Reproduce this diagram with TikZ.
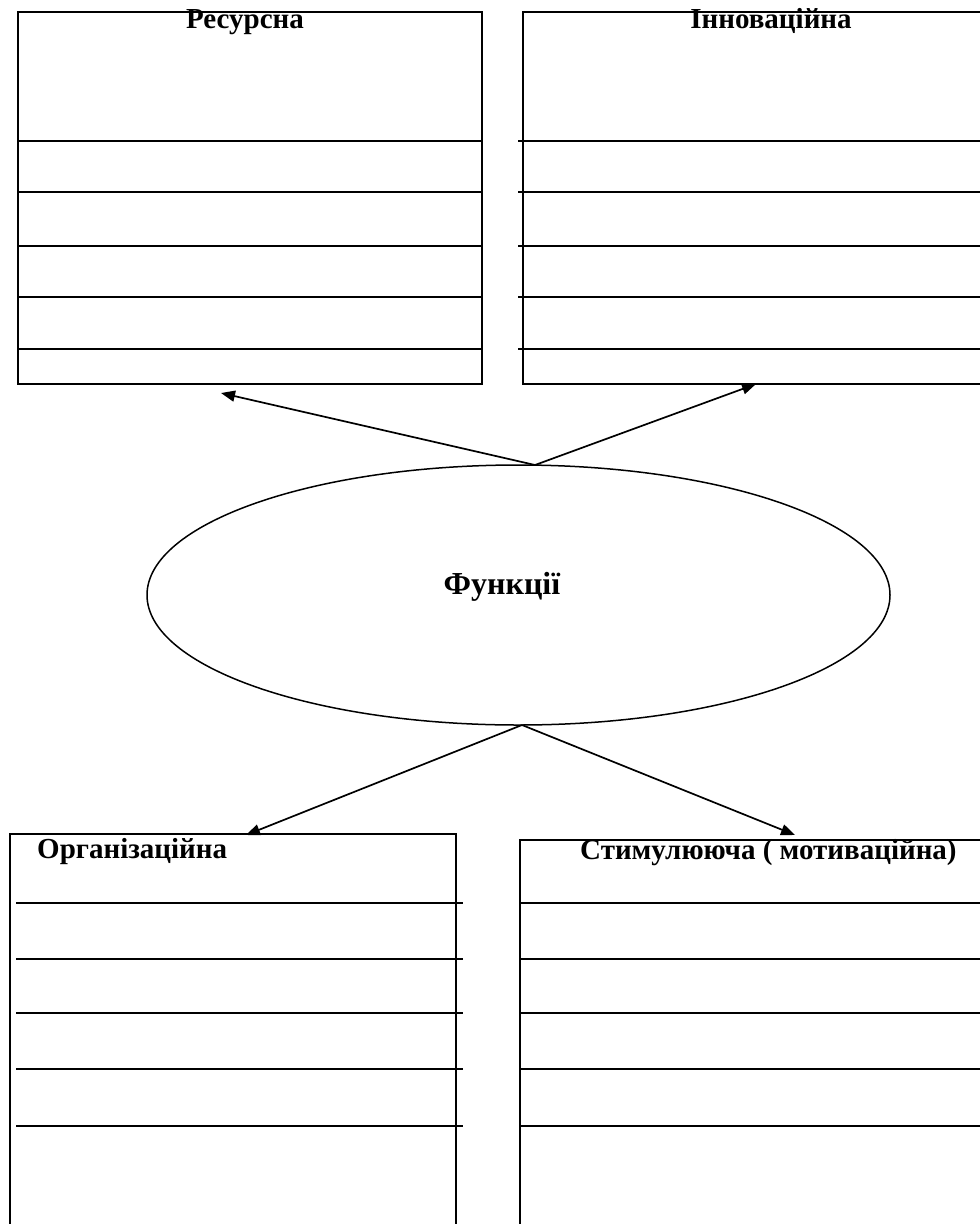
\documentclass[tikz,border=0pt]{standalone}
\usepackage{fontspec}
\setmainfont{Liberation Serif}
\usetikzlibrary{arrows.meta,shapes.geometric}
\begin{document}
\begin{tikzpicture}[x=1pt,y=-1pt,
  boxline/.style={line width=1.9pt},
  rowline/.style={line width=1.9pt},
  title/.style={font=\fontsize{29}{32}\selectfont\bfseries, inner sep=0pt},
  bigtitle/.style={font=\fontsize{32}{36}\selectfont\bfseries, inner sep=0pt},
  arr/.style={line width=1.7pt, -{Triangle[length=14pt,width=11pt]}}]
\useasboundingbox (0,0) rectangle (980,1224);
\clip (0,0) rectangle (980,1224);
\fill[white] (0,0) rectangle (980,1224);
% top-left box
\node[draw, boxline, rectangle, minimum width=464pt, minimum height=372pt, inner sep=0pt, anchor=north west] (res) at (17,11) {};
\foreach \yy in {141,192,246,297,349} \draw[rowline] (17,\yy) -- (481,\yy);
\node[title, anchor=base] (restitle) at (245,28) {Ресурсна};
% top-right box
\node[draw, boxline, rectangle, minimum width=520pt, minimum height=372pt, inner sep=0pt, anchor=north west] (inn) at (522,11) {};
\foreach \yy in {141,192,246,297,349} \draw[rowline] (518,\yy) -- (1042,\yy);
\node[title, anchor=base] (inntitle) at (771,28) {Інноваційна};
% ellipse
\node[draw, ellipse, line width=1.5pt, minimum width=743pt, minimum height=260pt, inner sep=0pt] (func) at (518.5,595) {};
\node[bigtitle, anchor=base] (functitle) at (502,594) {Функції};
% bottom-left box
\node[draw, boxline, rectangle, minimum width=446pt, minimum height=420pt, inner sep=0pt, anchor=north west] (org) at (9,833) {};
\foreach \yy in {903,959,1013,1069,1126} \draw[rowline] (16,\yy) -- (463,\yy);
\node[title, anchor=base west] (orgtitle) at (37,858) {Організаційна};
% bottom-right box
\node[draw, boxline, rectangle, minimum width=520pt, minimum height=420pt, inner sep=0pt, anchor=north west] (stim) at (519,839) {};
\foreach \yy in {903,959,1013,1069,1126} \draw[rowline] (519,\yy) -- (1042,\yy);
\node[title, anchor=base west] (stimtitle) at (580,859) {Стимулююча ( мотиваційна)};
% connectors
\coordinate (jt) at (535,465);
\coordinate (jb) at (522,725);
\coordinate (tres) at (221,393);
\coordinate (tinn) at (756,384);
\coordinate (torg) at (246,835);
\coordinate (tstim) at (795,835);
\draw[arr] (jt) -- (tres);
\draw[arr] (jt) -- (tinn);
\draw[arr] (jb) -- (torg);
\draw[arr] (jb) -- (tstim);
\end{tikzpicture}
\end{document}
